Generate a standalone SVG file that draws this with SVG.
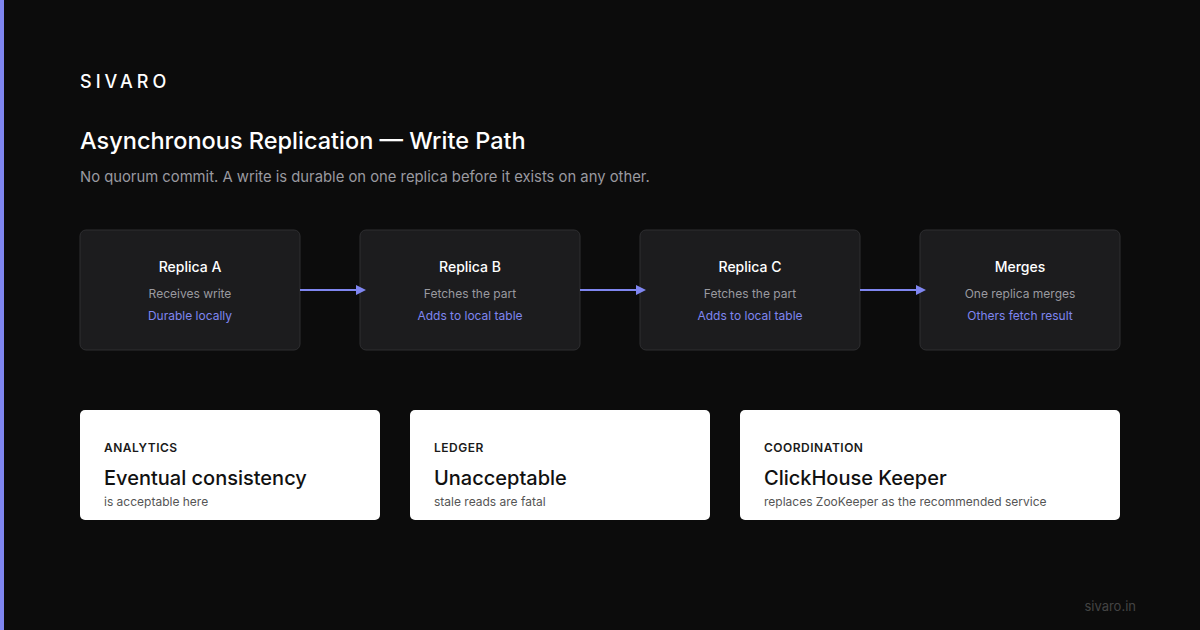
<svg xmlns="http://www.w3.org/2000/svg" width="1200" height="630" viewBox="0 0 1200 630">
<style>
text{font-family:Inter,"Liberation Sans",sans-serif}
.box{fill:#1c1c1e;stroke:#2e2e31;stroke-width:1}
.t{fill:#fff;font-size:14px;font-weight:500;text-anchor:middle}
.s{fill:#9a9aa0;font-size:12px;text-anchor:middle}
.a{fill:#7f86f0;font-size:12px;text-anchor:middle}
.card{fill:#fff}
.k{fill:#1a1a1a;font-size:12px;font-weight:600;letter-spacing:0.5px}
.h{fill:#111;font-size:20px;font-weight:500}
.d{fill:#555;font-size:12px}
.c{stroke:#7f86f0;stroke-width:2;fill:none}
.ah{fill:#7f86f0}
</style>
<rect width="1200" height="630" fill="#0c0c0c"/>
<rect width="4" height="630" fill="#7f86f0"/>
<text x="80" y="88" fill="#fff" font-size="18" font-weight="500" letter-spacing="4">SIVARO</text>
<text x="80" y="149" fill="#fff" font-size="23.5" font-weight="500">Asynchronous Replication — Write Path</text>
<text x="80" y="182" fill="#9a9aa0" font-size="14.8">No quorum commit. A write is durable on one replica before it exists on any other.</text>
<g id="a"><rect class="box" x="80" y="230" width="220" height="120" rx="6"/><text class="t" x="190" y="272">Replica A</text><text class="s" x="190" y="298">Receives write</text><text class="a" x="190" y="320">Durable locally</text></g>
<g id="b"><rect class="box" x="360" y="230" width="220" height="120" rx="6"/><text class="t" x="470" y="272">Replica B</text><text class="s" x="470" y="298">Fetches the part</text><text class="a" x="470" y="320">Adds to local table</text></g>
<g id="c"><rect class="box" x="640" y="230" width="220" height="120" rx="6"/><text class="t" x="750" y="272">Replica C</text><text class="s" x="750" y="298">Fetches the part</text><text class="a" x="750" y="320">Adds to local table</text></g>
<g id="m"><rect class="box" x="920" y="230" width="200" height="120" rx="6"/><text class="t" x="1020" y="272">Merges</text><text class="s" x="1020" y="298">One replica merges</text><text class="a" x="1020" y="320">Others fetch result</text></g>
<g id="connectors">
<path class="c" d="M300 290 H358"/><polygon class="ah" points="356,285 366,290 356,295"/>
<path class="c" d="M580 290 H638"/><polygon class="ah" points="636,285 646,290 636,295"/>
<path class="c" d="M860 290 H918"/><polygon class="ah" points="916,285 926,290 916,295"/>
</g>
<g id="c1"><rect class="card" x="80" y="410" width="300" height="110" rx="5"/><text class="k" x="104" y="452">ANALYTICS</text><text class="h" x="104" y="485">Eventual consistency</text><text class="d" x="104" y="506">is acceptable here</text></g>
<g id="c2"><rect class="card" x="410" y="410" width="300" height="110" rx="5"/><text class="k" x="434" y="452">LEDGER</text><text class="h" x="434" y="485">Unacceptable</text><text class="d" x="434" y="506">stale reads are fatal</text></g>
<g id="c3"><rect class="card" x="740" y="410" width="380" height="110" rx="5"/><text class="k" x="764" y="452">COORDINATION</text><text class="h" x="764" y="485">ClickHouse Keeper</text><text class="d" x="764" y="506">replaces ZooKeeper as the recommended service</text></g>
<text x="1136" y="611" fill="#444" font-size="13" text-anchor="end">sivaro.in</text>
</svg>
